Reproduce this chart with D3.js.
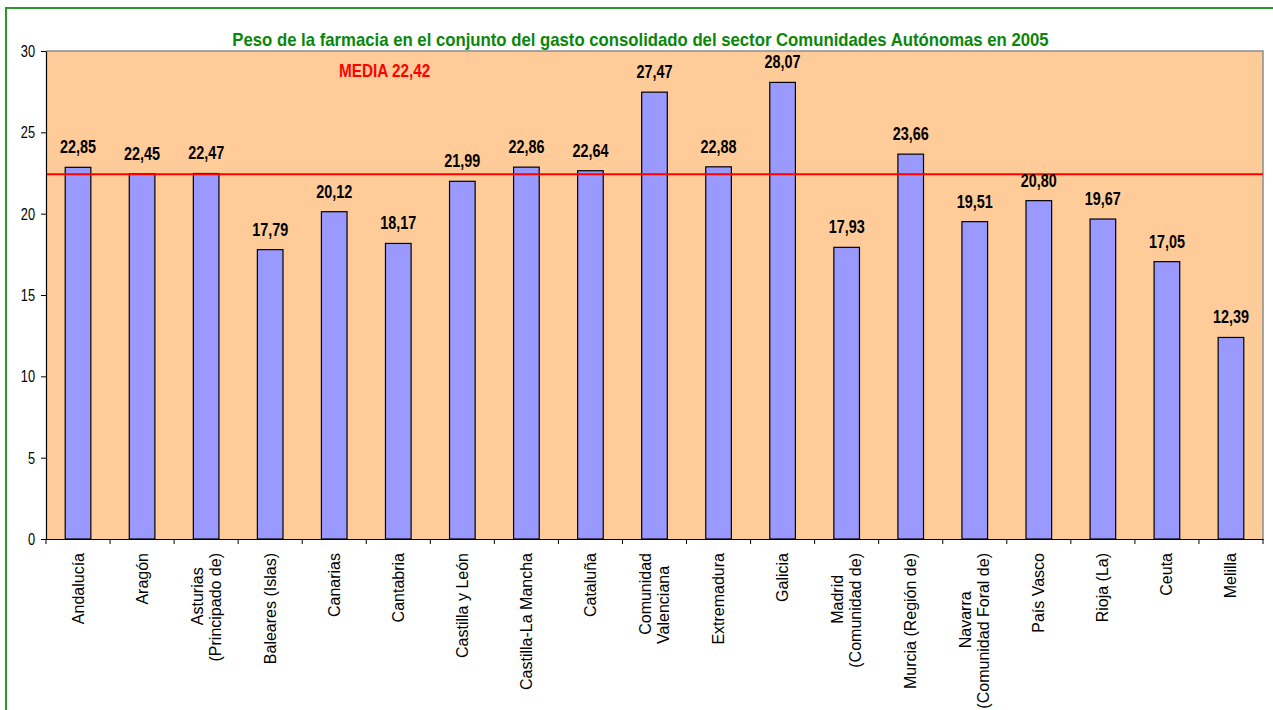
<!DOCTYPE html>
<html>
<head>
<meta charset="utf-8">
<script src="https://cdn.jsdelivr.net/npm/d3@7"></script>
<style>
  html, body { margin: 0; padding: 0; background: #ffffff; }
  svg { display: block; font-family: "Liberation Sans", Arial, sans-serif; }
</style>
</head>
<body>
<svg id="chart" width="1273" height="710"></svg>
<script>
// ---- Data ----
const categories = [
  "Andalucía", "Aragón", "Asturias\n(Principado de)", "Baleares (Islas)", "Canarias",
  "Cantabria", "Castilla y León", "Castilla-La Mancha", "Cataluña", "Comunidad\nValenciana",
  "Extremadura", "Galicia", "Madrid\n(Comunidad de)", "Murcia (Región de)",
  "Navarra\n(Comunidad Foral de)", "País Vasco", "Rioja (La)", "Ceuta", "Melilla"
];
const values = [22.85, 22.45, 22.47, 17.79, 20.12, 18.17, 21.99, 22.86, 22.64, 27.47,
                22.88, 28.07, 17.93, 23.66, 19.51, 20.80, 19.67, 17.05, 12.39];
const valueLabels = ["22,85", "22,45", "22,47", "17,79", "20,12", "18,17", "21,99", "22,86", "22,64", "27,47",
                     "22,88", "28,07", "17,93", "23,66", "19,51", "20,80", "19,67", "17,05", "12,39"];
const yTicks = [0, 5, 10, 15, 20, 25, 30];
const meanValue = 22.42;
const meanLabel = "MEDIA 22,42";
const title = "Peso de la farmacia en el conjunto del gasto consolidado del sector Comunidades Autónomas en 2005";

// ---- Layout ----
const svg = d3.select("#chart");
const plot = { left: 46, top: 51, right: 1263, bottom: 539 };
const SX = 0.8; // horizontal condensation of text

// outer frame
svg.append("rect")
  .attr("x", 6).attr("y", 8).attr("width", 1290).attr("height", 720)
  .attr("fill", "none").attr("stroke", "#2f962f").attr("stroke-width", 2);

const x = d3.scaleBand().domain(categories).range([plot.left, plot.right]).paddingInner(0).paddingOuter(0);
const y = d3.scaleLinear().domain([0, 30]).range([plot.bottom, plot.top]);

// plot area
svg.append("rect")
  .attr("x", plot.left).attr("y", plot.top)
  .attr("width", plot.right - plot.left).attr("height", plot.bottom - plot.top)
  .attr("fill", "#FFCC99");
svg.append("path")
  .attr("d", `M${plot.left},${plot.top}H${plot.right}V${plot.bottom}`)
  .attr("fill", "none").attr("stroke", "#8c8c8c").attr("stroke-width", 1.5);

// bars
const barW = x.bandwidth() / 2.5;
svg.append("g").selectAll("rect").data(values).join("rect")
  .attr("x", (d, i) => x(categories[i]) + (x.bandwidth() - barW) / 2)
  .attr("y", d => y(d))
  .attr("width", barW)
  .attr("height", d => y(0) - y(d))
  .attr("fill", "#9999FF").attr("stroke", "#000").attr("stroke-width", 1.2);

// mean line
svg.append("line")
  .attr("x1", plot.left).attr("x2", plot.right)
  .attr("y1", y(meanValue)).attr("y2", y(meanValue))
  .attr("stroke", "#ff0000").attr("stroke-width", 2);

// value labels
svg.append("g").selectAll("text").data(values).join("text")
  .attr("transform", (d, i) => `translate(${x(categories[i]) + x.bandwidth() / 2},${y(d) - 14}) scale(${SX},1)`)
  .attr("text-anchor", "middle")
  .attr("font-size", 18).attr("font-weight", "bold").attr("fill", "#000")
  .text((d, i) => valueLabels[i]);

// mean label
svg.append("text")
  .attr("transform", `translate(339,${y(30) + 26}) scale(0.875,1)`)
  .attr("font-size", 17.5).attr("font-weight", "bold").attr("fill", "#ff0000")
  .text(meanLabel);

// title
svg.append("text")
  .attr("transform", `translate(640.5,46) scale(0.905,1)`)
  .attr("text-anchor", "middle")
  .attr("font-size", 18.5).attr("font-weight", "bold").attr("fill", "#0a870a")
  .text(title);

// y axis
const yAxis = svg.append("g")
  .attr("transform", `translate(${plot.left},0)`)
  .call(d3.axisLeft(y).tickValues(yTicks).tickSize(5).tickSizeOuter(0).tickFormat(d3.format("d")));
yAxis.select(".domain").attr("stroke", "#000").attr("stroke-width", 1.2);
yAxis.selectAll(".tick line").attr("stroke", "#000");
yAxis.selectAll(".tick text")
  .attr("font-family", "Liberation Sans, Arial, sans-serif")
  .attr("font-size", 16).attr("fill", "#000")
  .attr("x", -11 / SX).attr("dy", "0.35em")
  .attr("transform", `scale(${SX},1)`);

// x axis (baseline + boundary ticks)
const xAxis = svg.append("g")
  .attr("transform", `translate(0,${plot.bottom})`)
  .call(d3.axisBottom(x).tickSize(0).tickSizeOuter(0).tickFormat(""));
xAxis.select(".domain").attr("stroke", "#000").attr("stroke-width", 1.2);
const bounds = categories.map(c => x(c)).concat([x(categories[categories.length - 1]) + x.bandwidth()]);
xAxis.append("g").selectAll("line").data(bounds).join("line")
  .attr("x1", d => d).attr("x2", d => d).attr("y1", 0).attr("y2", 5)
  .attr("stroke", "#000").attr("stroke-width", 1);

// rotated category labels
const labTop = plot.bottom + 14;
const lineGap = 18;
const labG = svg.append("g");
categories.forEach((c, i) => {
  const lines = c.split("\n");
  const cx = x(c) + x.bandwidth() / 2;
  const n = lines.length;
  const texts = lines.map((ln, k) => labG.append("text")
    .attr("font-size", 16).attr("fill", "#000")
    .attr("text-anchor", "middle")
    .text(ln));
  const lens = texts.map(t => t.node().getComputedTextLength());
  let centers;
  if (n === 1) {
    centers = [labTop + lens[0] / 2];
  } else {
    const c2 = labTop + Math.max(lens[1] / 2, lens[0] / 2 + 11);
    centers = [c2 - 11, c2];
  }
  texts.forEach((t, k) => {
    const bx = cx + 5.5 + (k - (n - 1) / 2) * lineGap;
    t.attr("transform", `translate(${bx},${centers[k]}) rotate(-90)`);
  });
});
</script>
</body>
</html>
